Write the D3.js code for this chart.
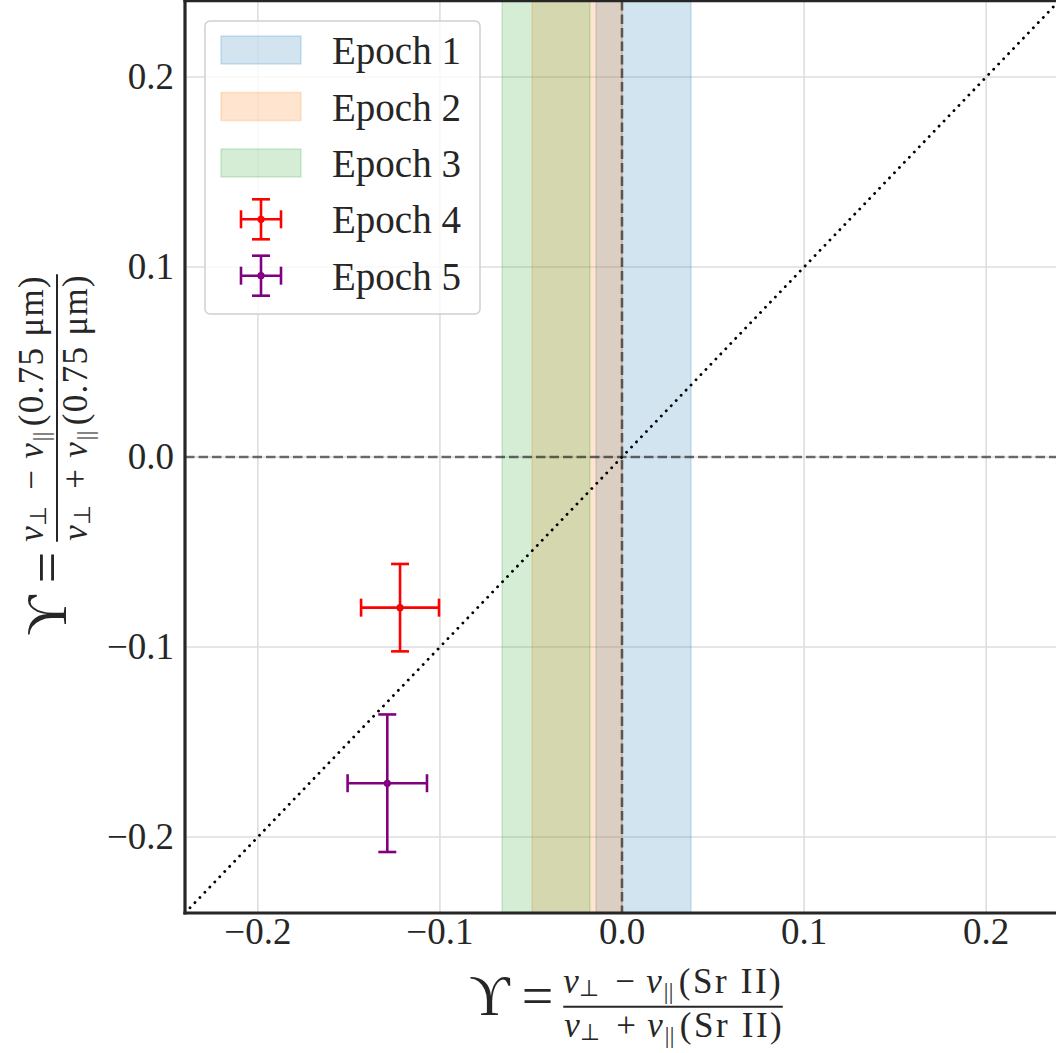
<!DOCTYPE html>
<html><head><meta charset="utf-8">
<script src="https://cdn.jsdelivr.net/npm/d3@7"></script>
<style>
html,body{margin:0;padding:0;background:#fff;}
svg{display:block;}
text{font-family:"Liberation Serif","Times New Roman",serif;fill:#262626;}
</style></head>
<body>
<svg id="chart" width="1056" height="1053"></svg>
<script>
// ---- data ----
const spanLabels = ["Epoch 1", "Epoch 2", "Epoch 3"];
const spanLo = [-0.0143, -0.0494, -0.0659];
const spanHi = [0.0379, 0.0, -0.0176];
const spanColors = ["#1f77b4", "#ff7f0e", "#2ca02c"];

const pointLabels = ["Epoch 4", "Epoch 5"];
const pointX = [-0.1219, -0.1289];
const pointY = [-0.0793, -0.1717];
const pointXErr = [0.0214, 0.0218];
const pointYErr = [0.0230, 0.0362];
const pointColors = ["#ff0000", "#800080"];

const xTicks = [-0.2, -0.1, 0.0, 0.1, 0.2];
const yTicks = [-0.2, -0.1, 0.0, 0.1, 0.2];
const xDomain = [-0.24, 0.24];
const yDomain = [-0.24, 0.24];

// ---- layout ----
const svg = d3.select("#chart");
const L = 185, R = 1059, T = 1, B = 913;
const x = d3.scaleLinear().domain(xDomain).range([L, R]);
const y = d3.scaleLinear().domain(yDomain).range([B, T]);

svg.append("defs").append("clipPath").attr("id", "clip")
  .append("rect").attr("x", L).attr("y", T).attr("width", R - L).attr("height", B - T);

const plot = svg.append("g").attr("clip-path", "url(#clip)");

// grid
plot.append("g").selectAll("line").data(xTicks).join("line")
  .attr("x1", d => x(d)).attr("x2", d => x(d)).attr("y1", T).attr("y2", B)
  .attr("stroke", "#dedede").attr("stroke-width", 1.6);
plot.append("g").selectAll("line").data(yTicks).join("line")
  .attr("y1", d => y(d)).attr("y2", d => y(d)).attr("x1", L).attr("x2", R)
  .attr("stroke", "#dedede").attr("stroke-width", 1.6);

// spans
plot.append("g").selectAll("rect").data(spanLabels).join("rect")
  .attr("x", (d, i) => x(spanLo[i])).attr("width", (d, i) => x(spanHi[i]) - x(spanLo[i]))
  .attr("y", T - 5).attr("height", B - T + 10)
  .attr("fill", (d, i) => spanColors[i]).attr("fill-opacity", 0.2)
  .attr("stroke", (d, i) => spanColors[i]).attr("stroke-opacity", 0.2).attr("stroke-width", 1.5);

// reference lines
plot.append("line").attr("x1", x(0)).attr("x2", x(0)).attr("y1", T).attr("y2", B)
  .attr("stroke", "#000").attr("stroke-opacity", 0.55).attr("stroke-width", 2.6).attr("stroke-dasharray", "9.5 4");
plot.append("line").attr("x1", L).attr("x2", R).attr("y1", y(0)).attr("y2", y(0))
  .attr("stroke", "#000").attr("stroke-opacity", 0.55).attr("stroke-width", 2.6).attr("stroke-dasharray", "9.5 4");
plot.append("line").attr("x1", x(xDomain[0])).attr("y1", y(yDomain[0]))
  .attr("x2", x(xDomain[1])).attr("y2", y(yDomain[1]))
  .attr("stroke", "#000").attr("stroke-width", 2.8).attr("stroke-linecap", "round")
  .attr("stroke-dasharray", "0.1 7.07");

// error bars
function errbar(g, cx, cy, x0, x1, y0, y1, color, cap) {
  g.append("line").attr("x1", x0).attr("x2", x1).attr("y1", cy).attr("y2", cy);
  g.append("line").attr("x1", cx).attr("x2", cx).attr("y1", y0).attr("y2", y1);
  g.append("line").attr("x1", x0).attr("x2", x0).attr("y1", cy - cap).attr("y2", cy + cap);
  g.append("line").attr("x1", x1).attr("x2", x1).attr("y1", cy - cap).attr("y2", cy + cap);
  g.append("line").attr("x1", cx - cap).attr("x2", cx + cap).attr("y1", y0).attr("y2", y0);
  g.append("line").attr("x1", cx - cap).attr("x2", cx + cap).attr("y1", y1).attr("y2", y1);
  g.selectAll("line").attr("stroke", color).attr("stroke-width", 2.6);
  g.append("circle").attr("cx", cx).attr("cy", cy).attr("r", 3.6).attr("fill", color);
}
pointLabels.forEach((lab, i) => {
  const g = plot.append("g");
  errbar(g, x(pointX[i]), y(pointY[i]),
    x(pointX[i] - pointXErr[i]), x(pointX[i] + pointXErr[i]),
    y(pointY[i] + pointYErr[i]), y(pointY[i] - pointYErr[i]), pointColors[i], 9);
});

// spines
const sp = svg.append("g").attr("stroke", "#262626").attr("stroke-width", 3.2).attr("fill", "none");
sp.append("line").attr("x1", L).attr("x2", L).attr("y1", 0).attr("y2", B + 1.6);
sp.append("line").attr("x1", L - 1.6).attr("x2", 1056).attr("y1", B).attr("y2", B);
sp.append("line").attr("x1", L - 1.6).attr("x2", 1056).attr("y1", 0.6).attr("y2", 0.6);
sp.append("line").attr("x1", R).attr("x2", R).attr("y1", 0).attr("y2", B);

// tick labels
const fmt = d => (d < 0 ? "\u2212" : "") + Math.abs(d).toFixed(1);
svg.append("g").selectAll("text").data(xTicks).join("text")
  .attr("x", d => x(d)).attr("y", 944).attr("text-anchor", "middle")
  .attr("font-size", 37).text(fmt);
svg.append("g").selectAll("text").data(yTicks).join("text")
  .attr("x", 174).attr("y", d => y(d) + 12).attr("text-anchor", "end")
  .attr("font-size", 37).text(fmt);

// axis labels
function fracRow(g, b0, base, op, unit, unitLen) {
  const t = (s, dx, dy, fs, it) => {
    const e = g.append("text").attr("x", b0 + dx).attr("y", base + dy).attr("font-size", fs).text(s);
    if (it) e.attr("font-style", "italic");
    return e;
  };
  t("v", 0, 0, 35, true);
  t("\u22A5", 16, 3, 23, false).attr("font-family", "DejaVu Serif");
  t(op, 52, 0, 35, false);
  t("v", 83, 0, 35, true);
  t("||", 100.5, 6, 23, false).attr("letter-spacing", 0.5);
  t(unit, 115.5, 0, 35, false).attr("textLength", unitLen).attr("lengthAdjust", "spacing");
  return 115.5 + unitLen;
}
function makeLabel(g, unit, unitLen, center) {
  const U = g.append("text").attr("font-size", 56).attr("y", 8.5).text("\u03D2");
  const E = g.append("text").attr("font-size", 56).attr("y", 8.5).text("=");
  const wU = U.node().getComputedTextLength();
  const wE = E.node().getComputedTextLength();
  const bar = 115.5 + unitLen + 2;
  const W = wU + 12 + wE + 10 + bar;
  const s = center - W / 2;
  U.attr("x", s);
  E.attr("x", s + wU + 12);
  const b0 = s + wU + 12 + wE + 10;
  g.append("line").attr("x1", b0).attr("x2", b0 + bar).attr("y1", 0).attr("y2", 0)
    .attr("stroke", "#262626").attr("stroke-width", 2);
  fracRow(g, b0, -13.7, "\u2212", unit, unitLen);
  fracRow(g, b0 + 1, 30, "+", unit, unitLen);
}
makeLabel(svg.append("g").attr("transform", "translate(0,1006.7)"), "(Sr II)", 102, 626);
makeLabel(svg.append("g").attr("transform", "translate(57,457) rotate(-90)"), "(0.75 \u03BCm)", 150, 2);

// legend
const lg = svg.append("g");
lg.append("rect").attr("x", 205).attr("y", 21).attr("width", 275).attr("height", 293)
  .attr("rx", 5).attr("fill", "#fff").attr("fill-opacity", 0.8)
  .attr("stroke", "#d0d0d0").attr("stroke-width", 1.5);
const rowY = [50, 106.5, 163, 219.3, 275.7];
spanLabels.forEach((lab, i) => {
  lg.append("rect").attr("x", 221).attr("y", rowY[i] - 14).attr("width", 80).attr("height", 28)
    .attr("fill", spanColors[i]).attr("fill-opacity", 0.2)
    .attr("stroke", spanColors[i]).attr("stroke-opacity", 0.2).attr("stroke-width", 1.5);
  lg.append("text").attr("x", 332).attr("y", rowY[i] + 14).attr("font-size", 39).text(lab);
});
pointLabels.forEach((lab, i) => {
  const r = rowY[3 + i];
  errbar(lg.append("g"), 261, r, 241, 281, r - 20, r + 20, pointColors[i], 9);
  lg.append("text").attr("x", 332).attr("y", r + 14).attr("font-size", 39).text(lab);
});
</script>
</body></html>
